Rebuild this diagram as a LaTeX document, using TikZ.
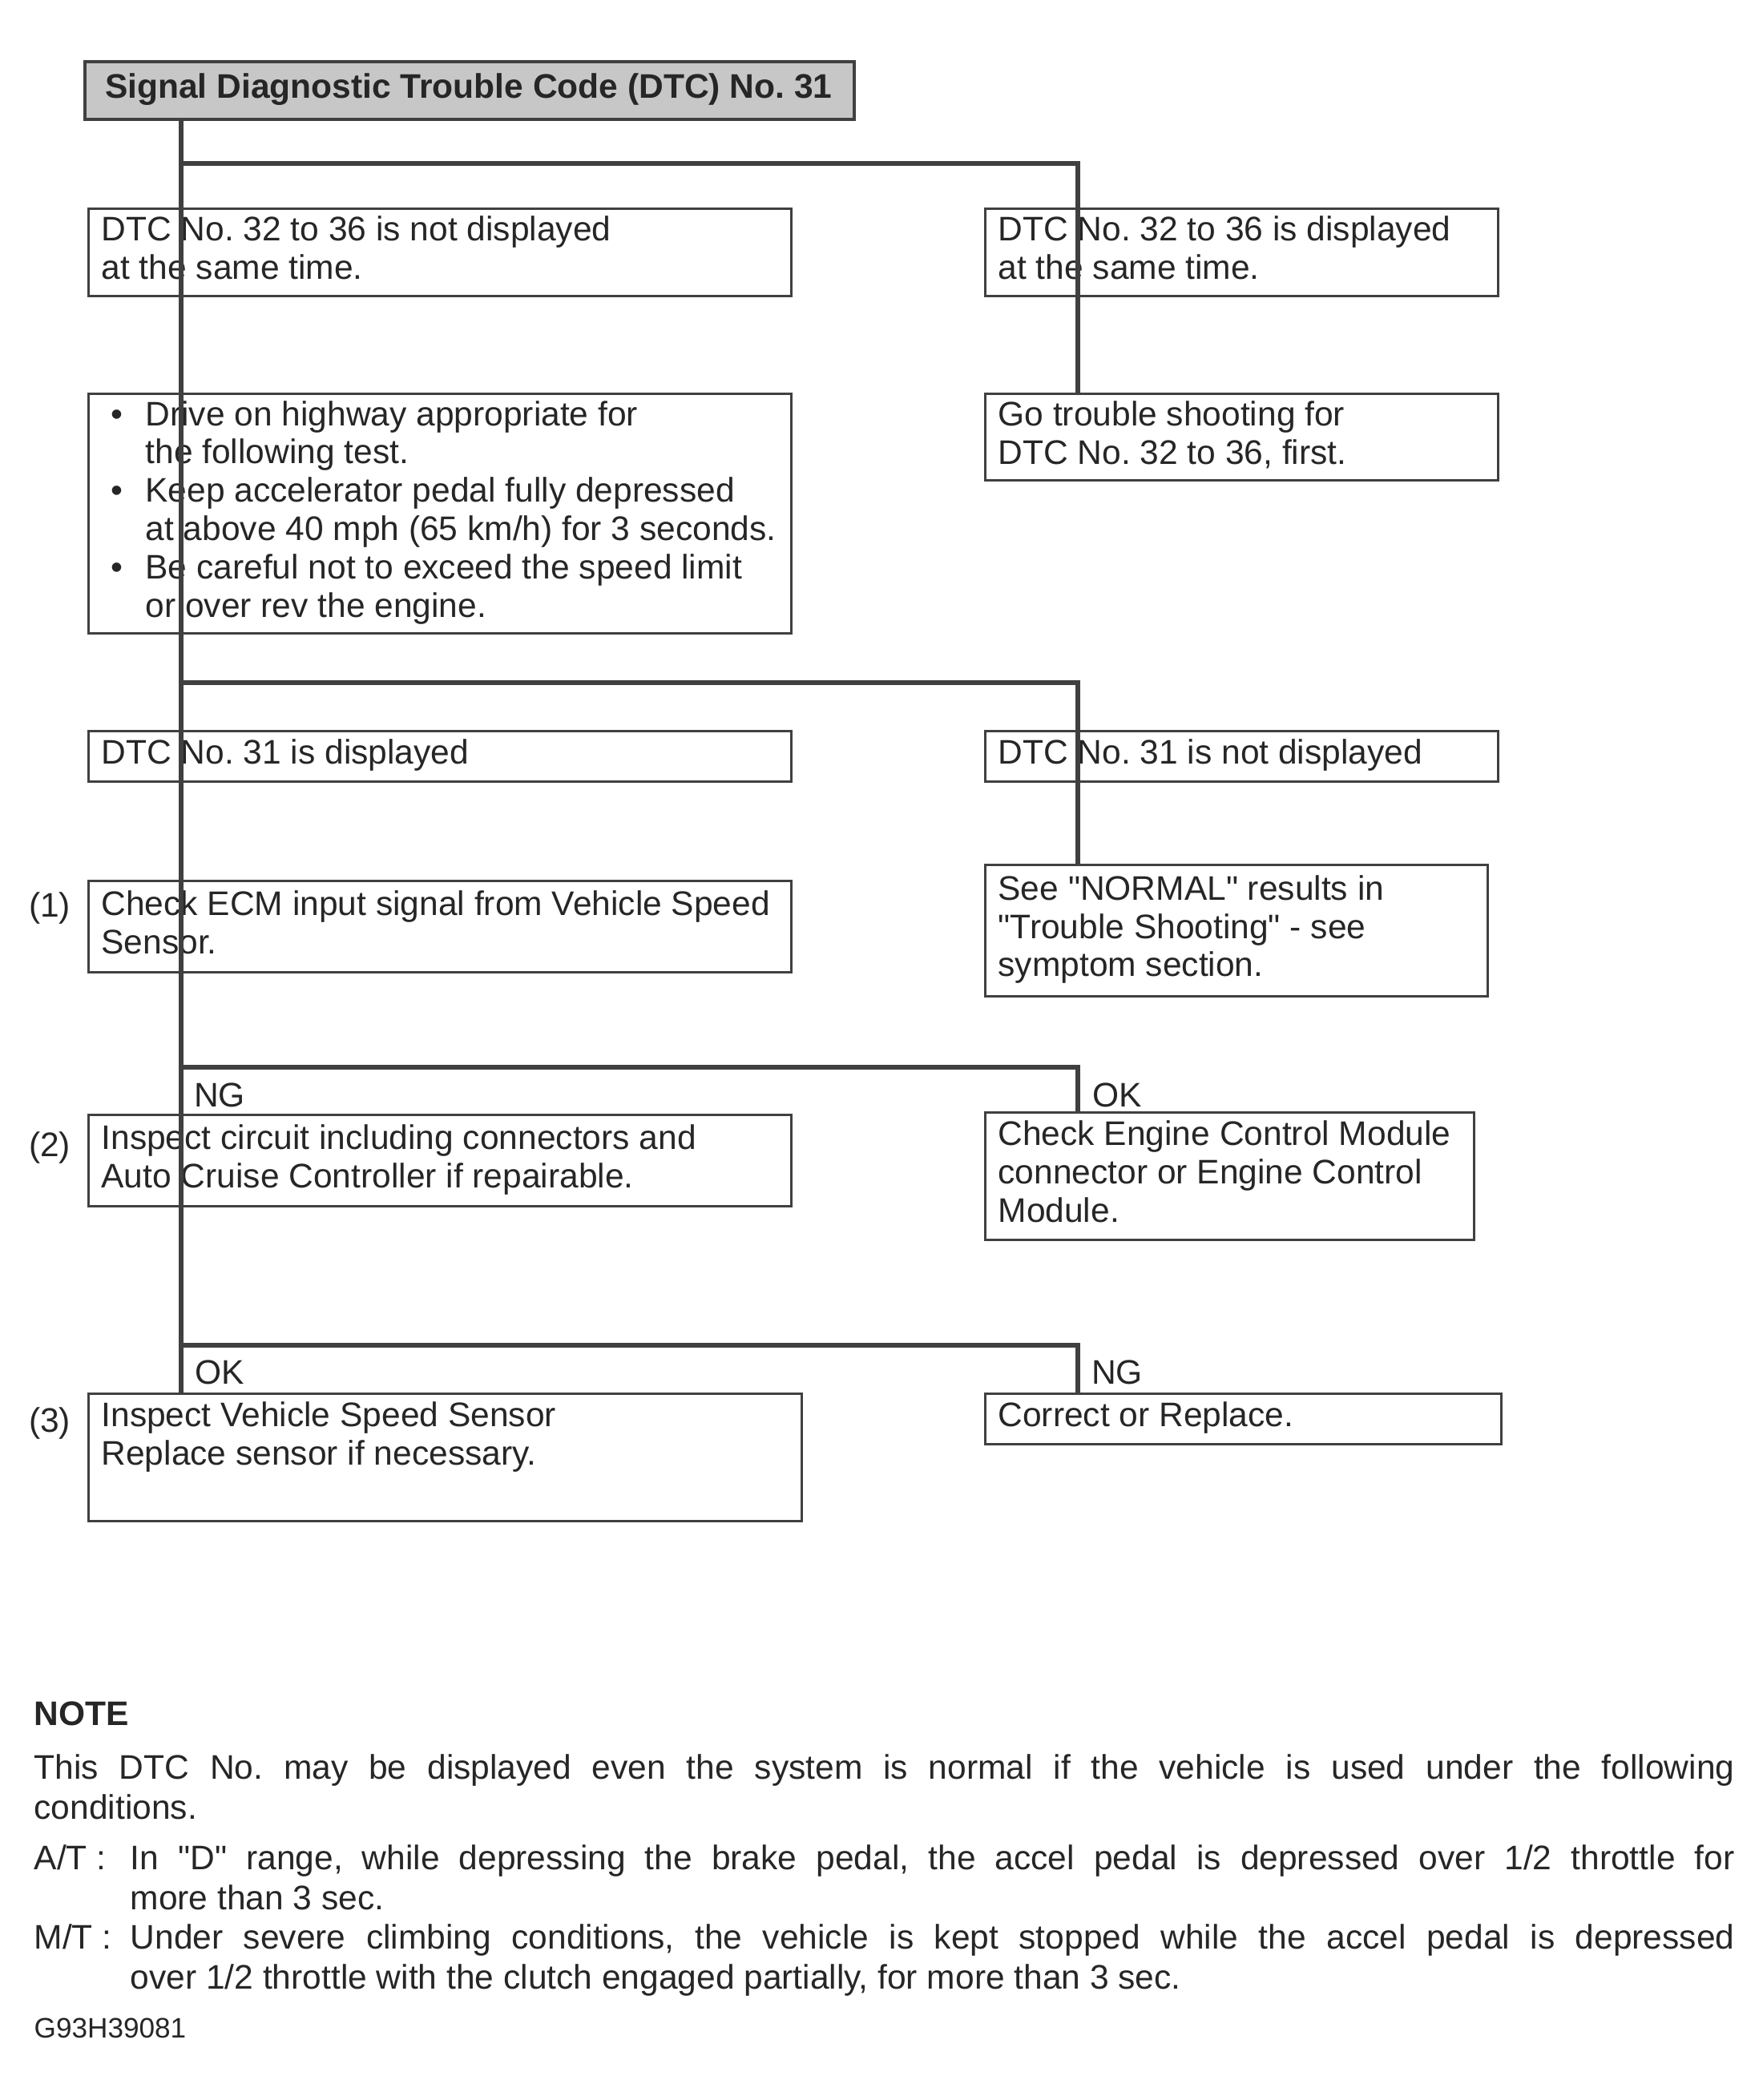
\documentclass[tikz,border=0pt]{standalone}
\usepackage{fontspec}
\setmainfont{Liberation Sans}
\frenchspacing
\newcommand{\bt}[2]{\makebox[#1][l]{\begin{tabular}{@{}l@{}}#2\end{tabular}}}
\newcommand{\bl}{\makebox[0.43cm][l]{\textbullet}}
\newcommand{\qq}[1]{\textquotedbl#1\textquotedbl}
\begin{document}
\begin{tikzpicture}[
  box/.style={draw=black!75, line width=0.9pt, anchor=north west, inner xsep=0pt, inner ysep=0pt,
    font=\fontsize{12.1}{13.6}\selectfont, text=black!85},
  conn/.style={draw=black!75, line width=1.6pt},
  lbl/.style={font=\fontsize{12.1}{13.6}\selectfont, text=black!85, inner sep=0pt},
  ttl/.style={draw=black!75, fill=black!22, line width=1.2pt, anchor=north west, inner xsep=0pt, inner ysep=0pt,
    font=\fontsize{12.1}{13.6}\selectfont\bfseries, text=black!85}
]
\fill[white] (0,0) rectangle (21.99,-26.21);
\useasboundingbox (0,0) rectangle (21.99,-26.21);

% title
\node[ttl, minimum width=9.6cm, minimum height=0.72cm] (title) at (1.04,-0.75)
  {\bt{9.1cm}{Signal Diagnostic Trouble Code (DTC) No. 31}};

% left column
\node[box, minimum width=8.77cm, minimum height=1.09cm] (L1) at (1.09,-2.59)
  {\bt{8.45cm}{DTC No. 32 to 36 is not displayed\\at the same time.}};
\node[box, minimum width=8.77cm, minimum height=2.99cm] (L2) at (1.09,-4.90)
  {\bt{8.45cm}{\hspace*{0.12cm}\bl Drive on highway appropriate for\\
   \hspace*{0.55cm}the following test.\\
   \hspace*{0.12cm}\bl Keep accelerator pedal fully depressed\\
   \hspace*{0.55cm}at above 40 mph (65 km/h) for 3 seconds.\\
   \hspace*{0.12cm}\bl Be careful not to exceed the speed limit\\
   \hspace*{0.55cm}or over rev the engine.}};
\node[box, minimum width=8.77cm, minimum height=0.63cm] (L3) at (1.09,-9.11)
  {\bt{8.45cm}{DTC No. 31 is displayed}};
\node[box, minimum width=8.77cm, minimum height=1.14cm] (L4) at (1.09,-10.98)
  {\bt{8.45cm}{Check ECM input signal from Vehicle Speed\\Sensor.}};
\node[box, minimum width=8.77cm, minimum height=1.14cm] (L5) at (1.09,-13.90)
  {\bt{8.45cm}{Inspect circuit including connectors and\\Auto Cruise Controller if repairable.}};
\node[box, minimum width=8.90cm, minimum height=1.59cm] (L6) at (1.09,-17.38)
  {\bt{8.58cm}{Inspect Vehicle Speed Sensor\\Replace sensor if necessary.\\ \mbox{}}};

% step numbers
\node[lbl] (n1) at (0.62,-11.33) {(1)};
\node[lbl] (n2) at (0.62,-14.32) {(2)};
\node[lbl] (n3) at (0.62,-17.76) {(3)};

% right column
\node[box, minimum width=6.40cm, minimum height=1.09cm] (R1) at (12.28,-2.59)
  {\bt{6.08cm}{DTC No. 32 to 36 is displayed\\at the same time.}};
\node[box, minimum width=6.40cm, minimum height=1.08cm] (R2) at (12.28,-4.90)
  {\bt{6.08cm}{Go trouble shooting for\\DTC No. 32 to 36, first.}};
\node[box, minimum width=6.40cm, minimum height=0.63cm] (R3) at (12.28,-9.11)
  {\bt{6.08cm}{DTC No. 31 is not displayed}};
\node[box, minimum width=6.27cm, minimum height=1.64cm] (R4) at (12.28,-10.78)
  {\bt{5.95cm}{See \qq{NORMAL} results in\\\qq{Trouble Shooting} - see\\symptom section.}};
\node[box, minimum width=6.10cm, minimum height=1.59cm] (R5) at (12.28,-13.87)
  {\bt{5.78cm}{Check Engine Control Module\\connector or Engine Control\\Module.}};
\node[box, minimum width=6.44cm, minimum height=0.63cm] (R6) at (12.28,-17.38)
  {\bt{6.12cm}{Correct or Replace.}};

% branch points
\coordinate (b1L) at (2.26,-2.04);  \coordinate (b1R) at (13.45,-2.04);
\coordinate (b2L) at (2.26,-8.52);  \coordinate (b2R) at (13.45,-8.52);
\coordinate (b3L) at (2.26,-13.32); \coordinate (b3R) at (13.45,-13.32);
\coordinate (b4L) at (2.26,-16.79); \coordinate (b4R) at (13.45,-16.79);

% connectors
\draw[conn] (title.south -| b1L) -- (L6.north -| b1L);
\draw[conn] (b1L) -- (b1R) -- (R2.north -| b1R);
\draw[conn] (b2L) -- (b2R) -- (R4.north -| b2R);
\draw[conn] (b3L) -- (b3R) -- (R5.north -| b3R);
\draw[conn] (b4L) -- (b4R) -- (R6.north -| b4R);

% branch labels
\node[lbl] (ng3) at (2.74,-13.67) {NG};
\node[lbl] (ok3) at (13.94,-13.67) {OK};
\node[lbl] (ok4) at (2.74,-17.13) {OK};
\node[lbl] (ng4) at (13.94,-17.13) {NG};

% note
\node[anchor=north west, inner sep=0pt, text width=21.22cm, align=justify,
      font=\fontsize{12.1}{14.2}\selectfont, text=black!85] (note) at (0.42,-21.23)
{\textbf{NOTE}\par\vspace{0.17cm}
This DTC No. may be displayed even the system is normal if the vehicle is used under the following\linebreak
conditions.\par\vspace{0.13cm}
\hangindent=1.2cm\hangafter=1\noindent\makebox[1.2cm][l]{A/T :}In \qq{D} range, while depressing the brake pedal, the accel pedal is depressed over 1/2 throttle for\linebreak
more than 3 sec.\par
\hangindent=1.2cm\hangafter=1\noindent\makebox[1.2cm][l]{M/T :}Under severe climbing conditions, the vehicle is kept stopped while the accel pedal is depressed\linebreak
over 1/2 throttle with the clutch engaged partially, for more than 3 sec.\par\vspace{0.11cm}
\noindent{\fontsize{10}{12}\selectfont G93H39081}\par};
\end{tikzpicture}
\end{document}
